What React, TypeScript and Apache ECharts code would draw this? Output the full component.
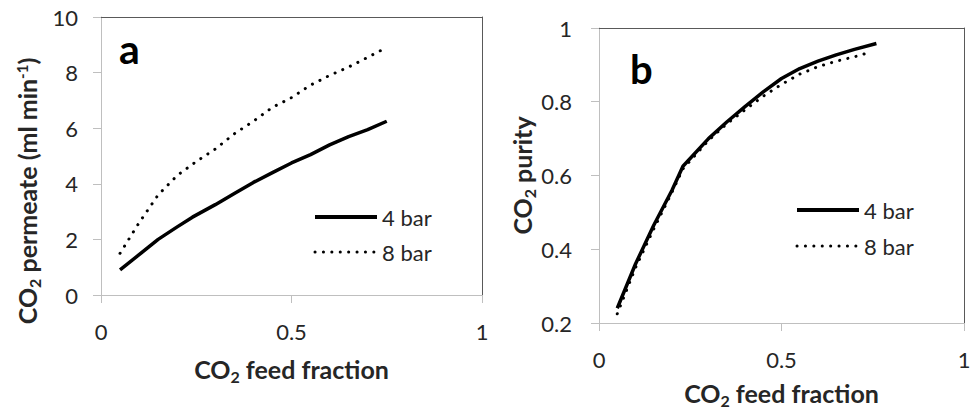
import React, { useEffect, useRef } from "react";
import * as echarts from "echarts";

// Panel a: CO2 permeate (ml/min) vs CO2 feed fraction
const permX4 = [0.05, 0.1, 0.15, 0.2, 0.24, 0.3, 0.35, 0.4, 0.45, 0.5, 0.55, 0.6, 0.65, 0.7, 0.75];
const perm4 = [0.9, 1.45, 2.0, 2.45, 2.8, 3.25, 3.65, 4.05, 4.4, 4.75, 5.05, 5.4, 5.7, 5.95, 6.25];
const permX8 = [0.05, 0.1, 0.15, 0.2, 0.25, 0.3, 0.35, 0.4, 0.45, 0.5, 0.55, 0.6, 0.65, 0.7, 0.735];
const perm8 = [1.5, 2.6, 3.6, 4.3, 4.8, 5.25, 5.8, 6.25, 6.75, 7.1, 7.55, 7.9, 8.2, 8.55, 8.8];

// Panel b: CO2 purity vs CO2 feed fraction
const purX4 = [0.05, 0.1, 0.15, 0.2, 0.23, 0.3, 0.35, 0.4, 0.45, 0.5, 0.55, 0.6, 0.65, 0.7, 0.76];
const pur4 = [0.24, 0.36, 0.465, 0.56, 0.625, 0.7, 0.745, 0.787, 0.827, 0.863, 0.89, 0.91, 0.927, 0.942, 0.958];
const purX8 = [0.05, 0.1, 0.15, 0.2, 0.23, 0.3, 0.35, 0.4, 0.45, 0.5, 0.55, 0.6, 0.65, 0.7, 0.735];
const pur8 = [0.225, 0.35, 0.455, 0.555, 0.618, 0.695, 0.74, 0.778, 0.815, 0.847, 0.875, 0.895, 0.91, 0.922, 0.932];

const seriesNames = ["4 bar", "8 bar"];
const panelLabels = ["a", "b"];

const FONT = "Lato";
const TXT = "#262626";
const LIGHT = "#bfbfbf";
const DARK = "#595959";

const zip = (xs: number[], ys: number[]) => xs.map((x, i) => [x, ys[i]]);

const rich = {
  a: { fontFamily: FONT, fontSize: 25, fontWeight: "bold", color: TXT, lineHeight: 30 },
  s: { fontFamily: FONT, fontSize: 16, fontWeight: "bold", color: TXT, lineHeight: 16, verticalAlign: "bottom" },
  p: { fontFamily: FONT, fontSize: 15, fontWeight: "bold", color: TXT, lineHeight: 15, verticalAlign: "top", padding: [2, 0, 0, 0] },
};

function mainX(grid: number, nameGap: number, margin: number) {
  return {
    type: "value",
    gridIndex: grid,
    min: 0,
    max: 1,
    interval: 0.5,
    position: "bottom",
    name: "{a|CO}{s|2}{a| feed fraction}",
    nameLocation: "middle",
    nameGap,
    nameTextStyle: { rich },
    axisLine: { show: true, onZero: false, lineStyle: { color: LIGHT, width: 1 } },
    axisTick: { show: true, inside: false, length: 8, lineStyle: { color: LIGHT } },
    axisLabel: { fontFamily: FONT, fontSize: 22, color: TXT, margin },
    splitLine: { show: false },
  };
}
function borderX(grid: number) {
  return {
    type: "value",
    gridIndex: grid,
    min: 0,
    max: 1,
    position: "top",
    axisLine: { show: true, onZero: false, lineStyle: { color: DARK, width: 1 } },
    axisTick: { show: false },
    axisLabel: { show: false },
    splitLine: { show: false },
  };
}
function mainY(grid: number, min: number, max: number, interval: number, name: string, nameGap: number, margin: number, shift: number) {
  return {
    type: "value",
    gridIndex: grid,
    min,
    max,
    interval,
    position: "left",
    name,
    nameLocation: "middle",
    nameGap,
    nameRotate: 90,
    nameTextStyle: { rich, padding: [0, shift, 0, 0] },
    axisLine: { show: true, onZero: false, lineStyle: { color: LIGHT, width: 1 } },
    axisTick: { show: true, inside: false, length: 8, lineStyle: { color: LIGHT } },
    axisLabel: { fontFamily: FONT, fontSize: 22, color: TXT, margin },
    splitLine: { show: false },
  };
}
function borderY(grid: number, min: number, max: number) {
  return {
    type: "value",
    gridIndex: grid,
    min,
    max,
    position: "right",
    axisLine: { show: true, onZero: false, lineStyle: { color: DARK, width: 1 } },
    axisTick: { show: false },
    axisLabel: { show: false },
    splitLine: { show: false },
  };
}

const solidStyle = { color: "#000", width: 3.5, type: "solid" as const };
const dotStyle = { color: "#000", width: 3, type: [0.1, 8.3], cap: "round" as const };

function legendAt(left: number, top: number, gap: number) {
  return {
    orient: "vertical",
    left,
    top,
    padding: 0,
    itemWidth: 62,
    itemHeight: 14,
    itemGap: gap,
    data: [
      { name: seriesNames[0], lineStyle: { width: 4, color: "#000", type: "solid" } },
      { name: seriesNames[1], lineStyle: { width: 3, color: "#000", type: [0.1, 8.3], cap: "round" } },
    ],
    itemStyle: { opacity: 0 },
    textStyle: { fontFamily: FONT, fontSize: 22, color: TXT, lineHeight: 22 },
    selectedMode: false,
  };
}

export default function App() {
  const ref = useRef<HTMLDivElement>(null);
  useEffect(() => {
    document.body.style.margin = "0";
    const chart = echarts.init(ref.current!, null, { renderer: "svg" });
    chart.setOption({
      animation: false,
      backgroundColor: "#ffffff",
      grid: [
        { left: 101, top: 17, width: 381, height: 278, outerBoundsMode: "none", containLabel: false },
        { left: 599, top: 28, width: 365, height: 295, outerBoundsMode: "none", containLabel: false },
      ],
      xAxis: [mainX(0, 59, 25), borderX(0), mainX(1, 55, 25), borderX(1)],
      yAxis: [
        mainY(0, 0, 10, 2, "{a|CO}{s|2}{a| permeate (ml min}{p|-1}{a|)}", 59, 23, 70),
        borderY(0, 0, 10),
        mainY(1, 0.2, 1, 0.2, "{a|CO}{s|2}{a| purity}", 59, 27, 0),
        borderY(1, 0.2, 1),
      ],
      legend: [legendAt(313, 206, 13), legendAt(795, 199, 14)],
      graphic: [
        {
          type: "text",
          left: 119,
          top: 28,
          style: { text: panelLabels[0], fontFamily: FONT, fontSize: 41, fontWeight: "bold", fill: "#000" },
        },
        {
          type: "text",
          left: 630,
          top: 49,
          style: { text: panelLabels[1], fontFamily: FONT, fontSize: 40, fontWeight: "bold", fill: "#000" },
        },
      ],
      series: [
        { name: seriesNames[0], type: "line", xAxisIndex: 0, yAxisIndex: 0, symbol: "none", data: zip(permX4, perm4), lineStyle: solidStyle, itemStyle: { color: "#000" } },
        { name: seriesNames[1], type: "line", xAxisIndex: 0, yAxisIndex: 0, symbol: "none", data: zip(permX8, perm8), lineStyle: dotStyle, itemStyle: { color: "#000" } },
        { name: seriesNames[0], type: "line", xAxisIndex: 2, yAxisIndex: 2, symbol: "none", data: zip(purX4, pur4), lineStyle: solidStyle, itemStyle: { color: "#000" } },
        { name: seriesNames[1], type: "line", xAxisIndex: 2, yAxisIndex: 2, symbol: "none", data: zip(purX8, pur8), lineStyle: dotStyle, itemStyle: { color: "#000" } },
      ],
    });
    return () => chart.dispose();
  }, []);
  return <div ref={ref} style={{ width: 973, height: 409 }} />;
}
